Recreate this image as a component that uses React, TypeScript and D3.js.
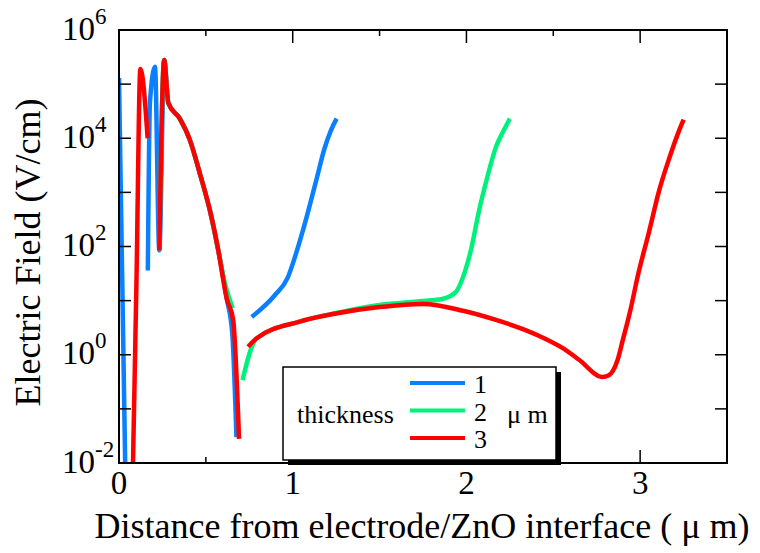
import React from "react";
import * as d3 from "d3";

// ---- data: [distance (µm), electric field (V/cm)] ----
const blue1: [number, number][] = [[0, 1.3e5], [0.036, 0.008]];
const blue2: [number, number][] = [
  [0.166, 36], [0.178, 4.5e4], [0.207, 2.1e5], [0.232, 85], [0.26, 2.8e5], [0.284, 4.5e4],
  [0.35, 2.3e4], [0.408, 9.3e3], [0.466, 2.2e3], [0.523, 470], [0.57, 90], [0.62, 11],
  [0.652, 2.5], [0.676, 0.03],
];
const blue3: [number, number][] = [
  [0.764, 5], [0.897, 12.6], [0.97, 26], [1.02, 76], [1.08, 350], [1.14, 1.9e3],
  [1.18, 6e3], [1.22, 1.4e4], [1.253, 2.3e4],
];
const green1: [number, number][] = [
  [0.232, 85], [0.26, 2.8e5], [0.284, 4.5e4], [0.35, 2.3e4], [0.408, 9.3e3], [0.466, 2.2e3],
  [0.523, 470], [0.57, 90], [0.61, 21], [0.655, 7.2],
];
const green2: [number, number][] = [
  [0.711, 0.34], [0.791, 2.0], [1.04, 4.1], [1.25, 5.9], [1.5, 8.3], [1.75, 9.8],
  [1.86, 10.7], [1.94, 14.5], [1.98, 27], [2.03, 98], [2.07, 420], [2.12, 1.9e3],
  [2.17, 6.9e3], [2.21, 1.3e4], [2.25, 2.3e4],
];
const red1: [number, number][] = [[0.08, 0.008], [0.1, 18], [0.123, 1.9e5], [0.165, 1e4]];
const red2: [number, number][] = [
  [0.232, 85], [0.26, 2.8e5], [0.284, 4.5e4], [0.35, 2.3e4], [0.408, 9.3e3], [0.466, 2.2e3],
  [0.523, 470], [0.57, 90], [0.62, 11], [0.657, 4.4], [0.691, 0.028],
];
const red3: [number, number][] = [
  [0.743, 1.4], [0.791, 2.0], [1.04, 4.1], [1.25, 5.8], [1.5, 7.6], [1.75, 8.7],
  [1.98, 6.5], [2.17, 4.4], [2.34, 2.85], [2.45, 2.0], [2.55, 1.35], [2.65, 0.8],
  [2.78, 0.39], [2.82, 0.42], [2.87, 0.8], [2.9, 1.86], [2.94, 5.9], [2.99, 32],
  [3.05, 180], [3.11, 1.1e3], [3.17, 4.5e3], [3.21, 1.05e4], [3.25, 2.2e4],
];

const seriesNames = ["1", "2", "3"];
const seriesColors = ["#0a80ff", "#00f07c", "#ff0000"];
const seriesSegments = [[blue1, blue2, blue3], [green1, green2], [red1, red2, red3]];

const yLabelExps = [6, 4, 2, 0, -2];
const yTickExps = [-1, 0, 1, 2, 3, 4, 5];
const xLabels = [0, 1, 2, 3];
const xTicks = [0.5, 1, 1.5, 2, 2.5, 3];

const W = 760, H = 553;
const L = 119, R = 727, T = 30, B = 463;
const FONT = "'Liberation Serif', 'Times New Roman', serif";

export default function App() {
  const x = d3.scaleLinear().domain([0, 3.5]).range([L, R]);
  const y = d3.scaleLog().domain([1e-2, 1e6]).range([B, T]);
  const line = d3
    .line<[number, number]>()
    .x((d) => x(d[0]))
    .y((d) => y(d[1]))
    .curve(d3.curveMonotoneX);

  return (
    <svg width={W} height={H} style={{ position: "absolute", left: 0, top: 0, background: "#fff" }} fontFamily={FONT}>
      <defs>
        <clipPath id="plot">
          <rect x={L} y={T} width={R - L} height={B - T} />
        </clipPath>
      </defs>

      {/* data */}
      <g clipPath="url(#plot)" fill="none" strokeWidth={4.5} strokeLinejoin="round">
        {seriesSegments.map((segs, i) =>
          segs.map((s, j) => <path key={i + "-" + j} d={line(s) || ""} stroke={seriesColors[i]} />)
        )}
      </g>

      {/* frame */}
      <rect x={L} y={T} width={R - L} height={B - T} fill="none" stroke="#000" strokeWidth={2} />

      {/* y ticks */}
      {yTickExps.map((e) => {
        const ty = y(Math.pow(10, e));
        return (
          <g key={"yt" + e} stroke="#000" strokeWidth={1.5}>
            <line x1={L} x2={L + 12} y1={ty} y2={ty} />
            <line x1={R} x2={R - 12} y1={ty} y2={ty} />
          </g>
        );
      })}
      {/* x ticks */}
      {xTicks.map((v) => {
        const tx = x(v);
        const len = Number.isInteger(v) ? 13 : 6;
        return (
          <g key={"xt" + v} stroke="#000" strokeWidth={1.5}>
            <line x1={tx} x2={tx} y1={B} y2={B - len} />
            <line x1={tx} x2={tx} y1={T} y2={T + len} />
          </g>
        );
      })}

      {/* y labels */}
      {yLabelExps.map((e) => {
        const ty = y(Math.pow(10, e));
        return (
          <text key={"yl" + e} x={62} y={ty + 9.5} fontSize={33} fill="#000">
            <tspan>10</tspan>
            <tspan dy={-16} fontSize={23}>{e < 0 ? "-" + Math.abs(e) : String(e)}</tspan>
          </text>
        );
      })}
      {/* x labels */}
      {xLabels.map((v) => (
        <text key={"xl" + v} x={x(v)} y={494} fontSize={33} textAnchor="middle" fill="#000">
          {v}
        </text>
      ))}

      {/* axis titles */}
      <text x={422} y={538} fontSize={36} textAnchor="middle" fill="#000">
        Distance from electrode/ZnO interface ( μ m)
      </text>
      <text transform={`translate(40,${(T + B) / 2 + 6}) rotate(-90)`} fontSize={36} textAnchor="middle" fill="#000">
        Electric Field (V/cm)
      </text>

      {/* legend */}
      <rect x={288} y={372} width={273} height={93} fill="#000" />
      <rect x={283} y={367} width={273} height={93} fill="#fff" stroke="#000" strokeWidth={1.5} />
      <text x={297} y={423} fontSize={26} fill="#000">thickness</text>
      {seriesNames.map((n, i) => {
        const ly = 383 + i * 27.5;
        return (
          <g key={"lg" + n}>
            <line x1={410} x2={465} y1={ly} y2={ly} stroke={seriesColors[i]} strokeWidth={4} />
            <text x={474} y={ly + 10} fontSize={26} fill="#000">{n}</text>
          </g>
        );
      })}
      <text x={507} y={423} fontSize={26} fill="#000">μ m</text>
    </svg>
  );
}
